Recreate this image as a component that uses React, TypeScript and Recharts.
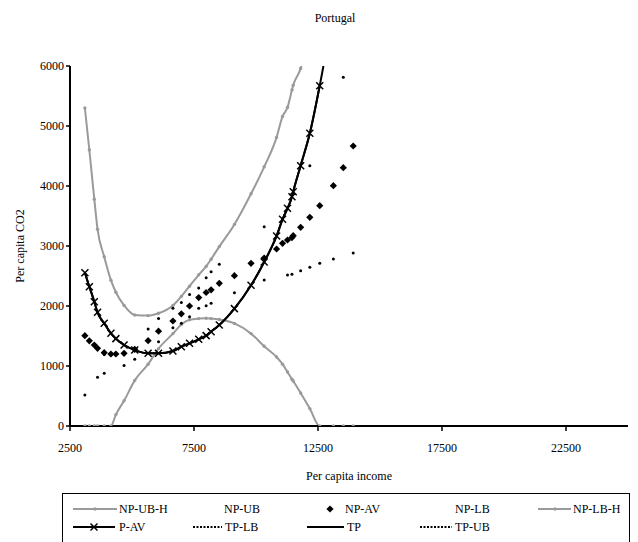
import React from 'react';
import { ComposedChart, Line, XAxis, YAxis, Legend } from 'recharts';

// Per capita income (shared x values for every series)
const income = [3100, 3280, 3480, 3610, 3880, 4150, 4350, 4680, 5110, 5650, 6070, 6650, 6990, 7320, 7690, 7990, 8190, 8520, 9130, 9800, 10330, 10830, 11070, 11270, 11450, 11500, 11800, 12170, 12570, 13120, 13520, 13920];

const npUbH = [5300, 4600, 3780, 3280, 2820, 2430, 2230, 2010, 1850, 1840, 1880, 2010, 2160, 2330, 2520, 2660, 2780, 2990, 3360, 3870, 4320, 4810, 5160, 5310, 5600, 5680, 5960, 6700, 7500, null, null, null];
const npUb = [null, 1430, null, null, 1190, 1185, 1190, null, null, 1617, 1790, 1961, 2060, 2190, 2300, 2472, 2572, 2694, null, null, 3322, null, null, null, null, null, null, 4339, null, null, 5811, null];
const npAv = [1506, 1420, 1350, 1294, 1222, 1200, 1200, 1211, 1278, 1422, 1580, 1750, 1870, 2000, 2140, 2225, 2270, 2378, 2506, 2711, 2800, 2950, 3044, 3100, 3140, 3172, 3311, 3478, 3672, 4005, 4306, 4667];
const npLb = [517, null, null, 811, 878, null, null, 1010, 1111, null, 1406, 1639, 1711, 1822, 1961, 2006, 2044, null, 2222, null, 2433, null, null, 2517, 2530, null, 2589, 2644, 2711, 2783, null, 2883];
const npLbH = [0, 0, 0, 0, 0, 0, 190, 420, 760, 1030, 1290, 1540, 1690, 1770, 1790, 1795, 1790, 1775, 1710, 1540, 1330, 1150, 1030, 900, 780, 750, 550, 290, 0, 0, 0, 0];
const pAv = [2555, 2322, 2072, 1895, 1711, 1545, 1456, 1350, 1267, 1211, 1211, 1250, 1322, 1378, 1445, 1506, 1572, 1683, 1956, 2345, 2733, 3167, 3445, 3628, 3822, 3905, 4339, 4878, 5672, null, null, null];
const tp = [2555, 2322, 2072, 1895, 1711, 1545, 1456, 1350, 1267, 1211, 1211, 1250, 1322, 1378, 1445, 1506, 1572, 1683, 1956, 2345, 2733, 3167, 3445, 3628, 3822, 3905, 4339, 4878, 5672, 6950, null, null];

const xTicks = [2500, 7500, 12500, 17500, 22500];
const yTicks = [0, 1000, 2000, 3000, 4000, 5000, 6000];

const legendRow1 = ['NP-UB-H', 'NP-UB', 'NP-AV', 'NP-LB', 'NP-LB-H'];
const legendRow2 = ['P-AV', 'TP-LB', 'TP', 'TP-UB'];

const rows = income.map((inc, i) => ({
  inc,
  npUbH: npUbH[i],
  npUb: npUb[i],
  npAv: npAv[i],
  npLb: npLb[i],
  npLbH: npLbH[i],
  pAv: pAv[i],
  tp: tp[i],
}));

const GRAY = '#9a9a9a';
const FONT = '"Liberation Serif", "Times New Roman", serif';

const grayDot = (p: any) =>
  p.cx == null || p.cy == null || p.value == null ? <g key={p.key} /> : <circle key={p.key} cx={p.cx} cy={p.cy} r={1.7} fill={GRAY} />;

const smallDot = (p: any) =>
  p.cx == null || p.cy == null || p.value == null ? <g key={p.key} /> : <circle key={p.key} cx={p.cx} cy={p.cy} r={1.5} fill="#000" />;

const diamond = (p: any) => {
  if (p.cx == null || p.cy == null || p.value == null) return <g key={p.key} />;
  const { cx, cy } = p;
  const r = 3.6;
  return <polygon key={p.key} points={`${cx},${cy - r} ${cx + r},${cy} ${cx},${cy + r} ${cx - r},${cy}`} fill="#000" />;
};

const cross = (p: any) => {
  if (p.cx == null || p.cy == null || p.value == null) return <g key={p.key} />;
  const { cx, cy } = p;
  const r = 3.5;
  return (
    <g key={p.key} stroke="#000" strokeWidth={1.5}>
      <line x1={cx - r} y1={cy - r} x2={cx + r} y2={cy + r} />
      <line x1={cx - r} y1={cy + r} x2={cx + r} y2={cy - r} />
    </g>
  );
};

// legend box drawn as its own little svg: two rows, Excel-style item spacing
const LegendBox = () => {
  const t = { fontFamily: FONT, fontSize: 12, fill: '#000' } as const;
  const y1 = 16;
  const y2 = 34;
  return (
    <svg width={570} height={52} style={{ display: 'block' }}>
      <rect x={0.5} y={0.5} width={567} height={70} fill="#fff" stroke="#000" strokeWidth={1} />
      {/* row 1 */}
      <line x1={11} y1={y1} x2={55} y2={y1} stroke={GRAY} strokeWidth={2} />
      <circle cx={33} cy={y1} r={1.7} fill={GRAY} />
      <text x={57} y={y1 + 4} {...t}>{legendRow1[0]}</text>
      <text x={162} y={y1 + 4} {...t}>{legendRow1[1]}</text>
      <polygon points={`268,${y1 - 3.6} 271.6,${y1} 268,${y1 + 3.6} 264.4,${y1}`} fill="#000" />
      <text x={283} y={y1 + 4} {...t}>{legendRow1[2]}</text>
      <text x={393} y={y1 + 4} {...t}>{legendRow1[3]}</text>
      <line x1={476} y1={y1} x2={509} y2={y1} stroke={GRAY} strokeWidth={2} />
      <circle cx={493} cy={y1} r={1.7} fill={GRAY} />
      <text x={511} y={y1 + 4} {...t}>{legendRow1[4]}</text>
      {/* row 2 */}
      <line x1={11} y1={y2} x2={53} y2={y2} stroke="#000" strokeWidth={2} />
      <g stroke="#000" strokeWidth={1.5}>
        <line x1={28.5} y1={y2 - 3.5} x2={35.5} y2={y2 + 3.5} />
        <line x1={28.5} y1={y2 + 3.5} x2={35.5} y2={y2 - 3.5} />
      </g>
      <text x={57} y={y2 + 4} {...t}>{legendRow2[0]}</text>
      <line x1={131} y1={y2} x2={160} y2={y2} stroke="#000" strokeWidth={2} strokeDasharray="2 1.5" />
      <text x={163} y={y2 + 4} {...t}>{legendRow2[1]}</text>
      <line x1={245} y1={y2} x2={282} y2={y2} stroke="#000" strokeWidth={2} />
      <text x={285} y={y2 + 4} {...t}>{legendRow2[2]}</text>
      <line x1={358} y1={y2} x2={390} y2={y2} stroke="#000" strokeWidth={2} strokeDasharray="2 1.5" />
      <text x={393} y={y2 + 4} {...t}>{legendRow2[3]}</text>
    </svg>
  );
};

export default function App() {
  const tick = { fill: '#000', fontSize: 12, fontFamily: FONT };
  return (
    <div style={{ position: 'absolute', left: 0, top: 0, width: 638, height: 542, background: '#fff', overflow: 'hidden' }}>
      <div style={{ position: 'absolute', left: 0, width: 670, top: 11, textAlign: 'center', fontFamily: FONT, fontSize: 12 }}>
        Portugal
      </div>
      <ComposedChart width={638} height={542} data={rows} margin={{ top: 66, right: 10, bottom: 62, left: 0 }}>
        <XAxis
          type="number"
          dataKey="inc"
          domain={[2500, 25000]}
          ticks={xTicks}
          allowDataOverflow
          axisLine={{ stroke: '#000', strokeWidth: 2 }}
          tickLine={{ stroke: '#000', strokeWidth: 1.5 }}
          tickSize={5}
          tickMargin={12}
          tick={tick}
          height={54}
          label={{ value: 'Per capita income', position: 'insideBottom', offset: 0, fill: '#000', fontSize: 12, fontFamily: FONT }}
        />
        <YAxis
          type="number"
          domain={[0, 6000]}
          ticks={yTicks}
          allowDataOverflow
          axisLine={{ stroke: '#000', strokeWidth: 2 }}
          tickLine={{ stroke: '#000', strokeWidth: 1.5 }}
          tickSize={4}
          tick={tick}
          width={70}
          label={{ value: 'Per capita CO2', angle: -90, position: 'insideLeft', offset: 20, textAnchor: 'middle', fill: '#000', fontSize: 12, fontFamily: FONT }}
        />
        <Legend
          layout="vertical"
          align="center"
          verticalAlign="middle"
          wrapperStyle={{ left: 62, top: 493, width: 570 }}
          content={() => <LegendBox />}
        />
        <Line type="monotone" dataKey="npUbH" stroke={GRAY} strokeWidth={2} dot={grayDot} isAnimationActive={false} />
        <Line type="monotone" dataKey="npLbH" stroke={GRAY} strokeWidth={2} dot={grayDot} isAnimationActive={false} />
        <Line type="monotone" dataKey="tp" stroke="#000" strokeWidth={2} dot={false} isAnimationActive={false} />
        <Line type="monotone" dataKey="pAv" stroke="#000" strokeWidth={2} dot={cross} isAnimationActive={false} />
        <Line dataKey="npAv" stroke="none" dot={diamond} isAnimationActive={false} />
        <Line dataKey="npUb" stroke="none" dot={smallDot} isAnimationActive={false} />
        <Line dataKey="npLb" stroke="none" dot={smallDot} isAnimationActive={false} />
      </ComposedChart>
    </div>
  );
}
